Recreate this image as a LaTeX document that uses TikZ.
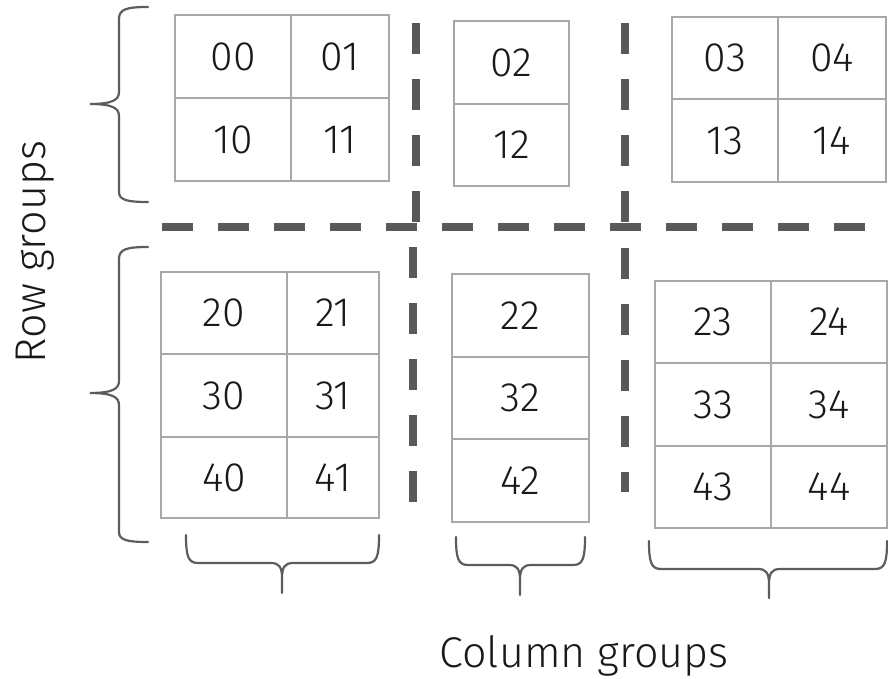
\documentclass[tikz,border=0pt]{standalone}
\usepackage{fontspec}
\setmainfont{Fira Sans Light}
\usepackage{tikz}
\usetikzlibrary{positioning}
\definecolor{gridgray}{HTML}{A8A8A8}
\definecolor{splitgray}{HTML}{595959}
\definecolor{bracegray}{HTML}{5C5C5C}
\tikzset{
  cell/.style={rectangle, draw=gridgray, line width=2pt, inner sep=0pt, outer sep=0pt, anchor=north west, font=\fontsize{41}{49}\selectfont, text=black!90},
  splitline/.style={draw=splitgray, line width=7.5pt, dash pattern=on 31pt off 25pt},
  curly/.style={draw=bracegray, line width=2.2pt, line cap=round},
  axislabel/.style={font=\fontsize{43}{51}\selectfont, anchor=base, inner sep=0pt, text=black!90},
}
\begin{document}
\begin{tikzpicture}[x=1pt, y=-1pt]
  \useasboundingbox (0,0) rectangle (888,679);
  % row group 0-1
  \node[cell, minimum width=116pt, minimum height=83pt] (c00) at (175,15) {00};
  \node[cell, minimum width=98pt, minimum height=83pt, right=0pt of c00] (c01) {01};
  \node[cell, minimum width=116pt, minimum height=83pt, below=0pt of c00] (c10) {10};
  \node[cell, minimum width=98pt, minimum height=83pt, below=0pt of c01] (c11) {11};
  \node[cell, minimum width=115pt, minimum height=83pt] (c02) at (454,21) {02};
  \node[cell, minimum width=115pt, minimum height=82pt, below=0pt of c02] (c12) {12};
  \node[cell, minimum width=106pt, minimum height=82pt] (c03) at (672,17) {03};
  \node[cell, minimum width=108pt, minimum height=82pt, right=0pt of c03] (c04) {04};
  \node[cell, minimum width=106pt, minimum height=83pt, below=0pt of c03] (c13) {13};
  \node[cell, minimum width=108pt, minimum height=83pt, below=0pt of c04] (c14) {14};
  % row group 2-4
  \node[cell, minimum width=126pt, minimum height=82pt] (c20) at (161,272) {20};
  \node[cell, minimum width=92pt, minimum height=82pt, right=0pt of c20] (c21) {21};
  \node[cell, minimum width=126pt, minimum height=83pt, below=0pt of c20] (c30) {30};
  \node[cell, minimum width=92pt, minimum height=83pt, below=0pt of c21] (c31) {31};
  \node[cell, minimum width=126pt, minimum height=81pt, below=0pt of c30] (c40) {40};
  \node[cell, minimum width=92pt, minimum height=81pt, below=0pt of c31] (c41) {41};
  \node[cell, minimum width=137pt, minimum height=83pt] (c22) at (452,274) {22};
  \node[cell, minimum width=137pt, minimum height=82pt, below=0pt of c22] (c32) {32};
  \node[cell, minimum width=137pt, minimum height=83pt, below=0pt of c32] (c42) {42};
  \node[cell, minimum width=116pt, minimum height=82pt] (c23) at (655,281) {23};
  \node[cell, minimum width=116pt, minimum height=82pt, right=0pt of c23] (c24) {24};
  \node[cell, minimum width=116pt, minimum height=83pt, below=0pt of c23] (c33) {33};
  \node[cell, minimum width=116pt, minimum height=83pt, below=0pt of c24] (c34) {34};
  \node[cell, minimum width=116pt, minimum height=82pt, below=0pt of c33] (c43) {43};
  \node[cell, minimum width=116pt, minimum height=82pt, below=0pt of c34] (c44) {44};
  % split lines
  \draw[splitline] (162,227) -- (865,227);
  \draw[splitline] (416,23) -- (416,223);
  \draw[splitline] (625,23) -- (625,223);
  \draw[splitline] (413,247) -- (413,503);
  \draw[splitline] (625,248) -- (625,492);
  % braces
  \draw[curly] (148,7) .. controls (127,7) and (119,9) .. (119,19) -- (119,92) .. controls (119,100) and (112,104) .. (90,104)
    .. controls (112,104) and (119,108) .. (119,116) -- (119,192) .. controls (119,200) and (127,202) .. (148,202);
  \draw[curly] (148,247) .. controls (127,247) and (119,249) .. (119,259) -- (119,381) .. controls (119,389) and (112,393) .. (90,393)
    .. controls (112,393) and (119,397) .. (119,405) -- (119,532) .. controls (119,540) and (127,542) .. (148,542);
  \draw[curly] (186,535) .. controls (186,556) and (188,563) .. (198,563) -- (271,563) .. controls (279,563) and (282,567) .. (282,578) -- (282,593)
    (282,578) .. controls (282,567) and (285,563) .. (293,563) -- (367,563) .. controls (377,563) and (379,556) .. (379,535);
  \draw[curly] (456,537) .. controls (456,558) and (458,565) .. (468,565) -- (509,565) .. controls (517,565) and (520,569) .. (520,580) -- (520,595)
    (520,580) .. controls (520,569) and (523,565) .. (531,565) -- (573,565) .. controls (583,565) and (585,558) .. (585,537);
  \draw[curly] (649,541) .. controls (649,562) and (651,569) .. (661,569) -- (758,569) .. controls (766,569) and (769,573) .. (769,584) -- (769,598)
    (769,584) .. controls (769,573) and (772,569) .. (780,569) -- (875,569) .. controls (885,569) and (887,562) .. (887,541);
  % labels
  \node[axislabel, rotate=90] (rowlab) at (45,252) {Row groups};
  \node[axislabel] (collab) at (584,667) {Column groups};
\end{tikzpicture}
\end{document}
